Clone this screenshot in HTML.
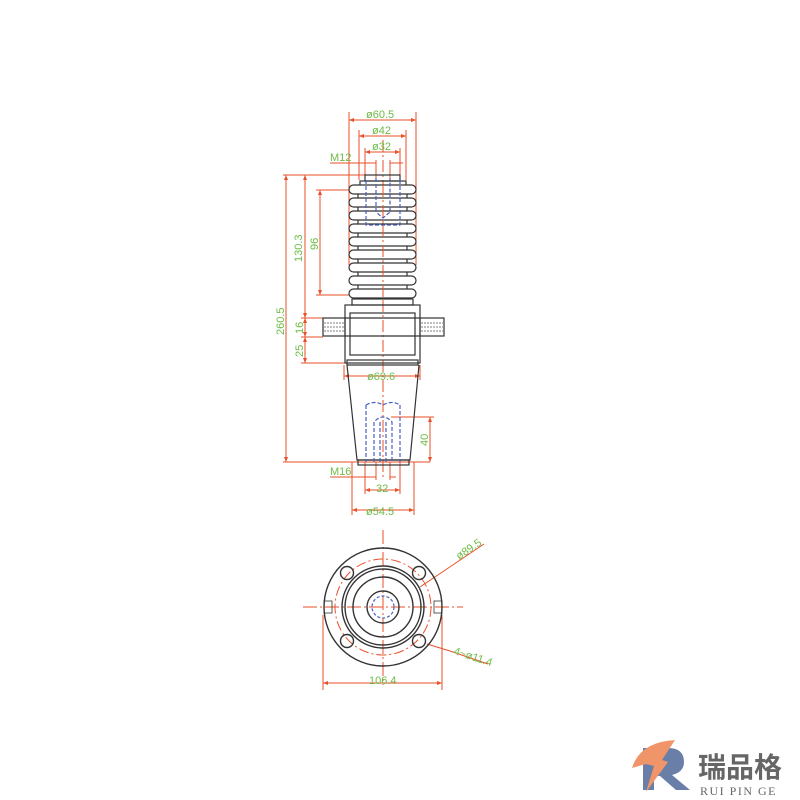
<!DOCTYPE html>
<html><head><meta charset="utf-8"><style>body{margin:0;background:#fff}svg{display:block}</style></head><body>
<svg width="800" height="800" viewBox="0 0 800 800" xmlns="http://www.w3.org/2000/svg" font-family="Liberation Sans, sans-serif">
<rect width="800" height="800" fill="#fff"/>
<g stroke="#e8502a" stroke-width="1" fill="none">
<line x1="383" y1="140" x2="383" y2="480" stroke-dasharray="12 3 2 3"/>
<line x1="349" y1="112" x2="349" y2="265"/><line x1="416" y1="112" x2="416" y2="265"/>
<line x1="349" y1="120" x2="416" y2="120"/>
<line x1="359" y1="130" x2="359" y2="180"/><line x1="406" y1="130" x2="406" y2="180"/>
<line x1="359" y1="136" x2="406" y2="136"/>
<line x1="365" y1="148" x2="365" y2="178"/><line x1="400" y1="148" x2="400" y2="178"/>
<line x1="365" y1="152" x2="400" y2="152"/>
<line x1="330" y1="163" x2="376" y2="163"/><line x1="390" y1="163" x2="403" y2="163"/>
<line x1="376" y1="160" x2="376" y2="178"/><line x1="390" y1="160" x2="390" y2="178"/>
<line x1="283" y1="175" x2="370" y2="175"/>
<line x1="286" y1="175" x2="286" y2="462"/>
<line x1="283" y1="462" x2="430" y2="462"/>
<line x1="305" y1="175" x2="305" y2="363"/>
<line x1="316" y1="190" x2="349" y2="190"/><line x1="316" y1="295" x2="349" y2="295"/>
<line x1="320" y1="190" x2="320" y2="295"/>
<line x1="301" y1="318" x2="323" y2="318"/><line x1="301" y1="337" x2="323" y2="337"/>
<line x1="301" y1="363" x2="345" y2="363"/>
<line x1="344" y1="365" x2="344" y2="380"/><line x1="420" y1="365" x2="420" y2="380"/>
<line x1="344" y1="376" x2="420" y2="376"/>
<line x1="391" y1="417" x2="434" y2="417"/><line x1="430" y1="417" x2="430" y2="462"/>
<line x1="330" y1="477" x2="376" y2="477"/><line x1="390" y1="477" x2="396" y2="477"/>
<line x1="376" y1="462" x2="376" y2="480"/><line x1="390" y1="462" x2="390" y2="480"/>
<line x1="365" y1="462" x2="365" y2="494"/><line x1="400" y1="462" x2="400" y2="494"/>
<line x1="365" y1="490" x2="400" y2="490"/>
<line x1="352" y1="462" x2="352" y2="515"/><line x1="414" y1="462" x2="414" y2="515"/>
<line x1="352" y1="510" x2="414" y2="510"/>
<line x1="303" y1="607" x2="463" y2="607" stroke-dasharray="14 3 2 3"/>
<line x1="383" y1="530" x2="383" y2="685" stroke-dasharray="14 3 2 3"/>
<circle cx="383" cy="607" r="48" stroke-dasharray="10 3 2 3"/>
<line x1="323" y1="615" x2="323" y2="690"/><line x1="442" y1="615" x2="442" y2="690"/>
<line x1="323" y1="683" x2="442" y2="683"/>
<line x1="420" y1="587" x2="484" y2="544"/>
<line x1="427" y1="644" x2="450" y2="651"/><line x1="450" y1="651" x2="488" y2="664"/>
</g>
<g fill="#e8502a">
<path d="M349 120l5-2v4zM416 120l-5-2v4zM359 136l5-2v4zM406 136l-5-2v4zM365 152l5-2v4zM400 152l-5-2v4zM286 175l-2 5h4zM286 462l-2-5h4zM305 175l-2 5h4zM305 318l-2-5h4zM305 318l-2 5h4zM305 337l-2-5h4zM305 337l-2 5h4zM305 363l-2-5h4zM320 190l-2 5h4zM320 295l-2-5h4zM344 376l5-2v4zM420 376l-5-2v4zM430 417l-2 5h4zM430 462l-2-5h4zM365 490l5-2v4zM400 490l-5-2v4zM352 510l5-2v4zM414 510l-5-2v4zM323 683l5-2v4zM442 683l-5-2v4z"/>
</g>
<g stroke="#333" stroke-width="1.2" fill="none">
<rect x="365" y="175" width="35" height="6"/>
<rect x="360" y="181" width="46" height="7"/>
<path d="M358 188V297M407 188V297"/>
<g fill="#fff">
<rect x="349" y="185" width="67" height="9" rx="4.5"/>
<rect x="349" y="198" width="67" height="9" rx="4.5"/>
<rect x="349" y="211" width="67" height="9" rx="4.5"/>
<rect x="349" y="224" width="67" height="9" rx="4.5"/>
<rect x="349" y="237" width="67" height="9" rx="4.5"/>
<rect x="349" y="250" width="67" height="9" rx="4.5"/>
<rect x="349" y="263" width="67" height="9" rx="4.5"/>
<rect x="349" y="276" width="67" height="9" rx="4.5"/>
<rect x="349" y="289" width="67" height="9" rx="4.5"/>
</g>
<rect x="352" y="299" width="61" height="6"/>
<rect x="345" y="305" width="75" height="58"/>
<rect x="350" y="313" width="65" height="42"/>
<rect x="323" y="318" width="22" height="18"/><rect x="420" y="318" width="24" height="18"/>
<line x1="345" y1="318" x2="420" y2="318"/><line x1="345" y1="336" x2="420" y2="336"/>
<rect x="347" y="360" width="71" height="5"/>
<path d="M347 365L357 460H410L419 365"/>
<rect x="358" y="460" width="51" height="5"/>
</g>
<line x1="383" y1="185" x2="383" y2="298" stroke="#e8502a" stroke-dasharray="12 3 2 3"/>
<g stroke="#555" stroke-width="0.8" fill="none">
<path d="M324 323h20M324 327h20M324 331h20M421 323h22M421 327h22M421 331h22" stroke-dasharray="2 1"/>
</g>
<g stroke="#4a5fc1" stroke-width="1.2" fill="none" stroke-dasharray="4 2">
<path d="M366 180V225H400V180"/>
<path d="M376 178V212L383 218L390 212V178"/>
<path d="M366 405V462M400 405V462M366 405Q375 400 383 405Q392 400 400 405"/>
<path d="M374 462V422Q383 412 392 422V462M380 462V420M386 462V420"/>
</g>
<g stroke="#333" stroke-width="1.4" fill="none">
<circle cx="383" cy="607" r="59"/>
<circle cx="383" cy="607" r="41"/>
<circle cx="383" cy="607" r="38"/>
<circle cx="383" cy="607" r="30"/>
<circle cx="383" cy="607" r="16"/>
<circle cx="347" cy="573" r="6.5"/><circle cx="419" cy="573" r="6.5"/>
<circle cx="347" cy="641" r="6.5"/><circle cx="419" cy="641" r="6.5"/>
<rect x="324" y="601" width="8" height="12" stroke-width="0.8"/>
<rect x="434" y="601" width="8" height="12" stroke-width="0.8"/>
</g>
<circle cx="383" cy="607" r="11" stroke="#4a5fc1" stroke-width="1.2" fill="none" stroke-dasharray="3 2"/>
<g fill="#6dbb45" font-size="11">
<text x="366" y="118">ø60.5</text>
<text x="372" y="134">ø42</text>
<text x="372" y="150">ø32</text>
<text x="330" y="161">M12</text>
<text transform="translate(302,262) rotate(-90)">130.3</text>
<text transform="translate(318,250) rotate(-90)">96</text>
<text transform="translate(284,335) rotate(-90)">260.5</text>
<text transform="translate(303,334) rotate(-90)">16</text>
<text transform="translate(303,357) rotate(-90)">25</text>
<text x="367" y="380">ø69.6</text>
<text transform="translate(428,446) rotate(-90)">40</text>
<text x="330" y="475">M16</text>
<text x="376" y="492">32</text>
<text x="366" y="515">ø54.5</text>
<text transform="translate(459,560) rotate(-34)">ø89.5</text>
<text transform="translate(453,654) rotate(18)">4~ø11.4</text>
<text x="369" y="684">106.4</text>
</g>
<path d="M643 790V748H668Q684 748 684 762Q684 772 672 775L690 790H676L660 776H654V790Z" fill="#6a7fa8"/>
<path d="M632 768Q640 742 675 740L662 760L668 762L646 792L654 766L646 764Z" fill="#f0956a"/>
<text x="698" y="777" font-family="Noto Sans CJK SC, sans-serif" font-weight="bold" font-size="28" fill="#666">瑞品格</text>
<text x="700" y="795" font-family="Liberation Serif, serif" font-size="12" fill="#666" letter-spacing="1.5">RUI PIN GE</text>
</svg>
</body></html>
